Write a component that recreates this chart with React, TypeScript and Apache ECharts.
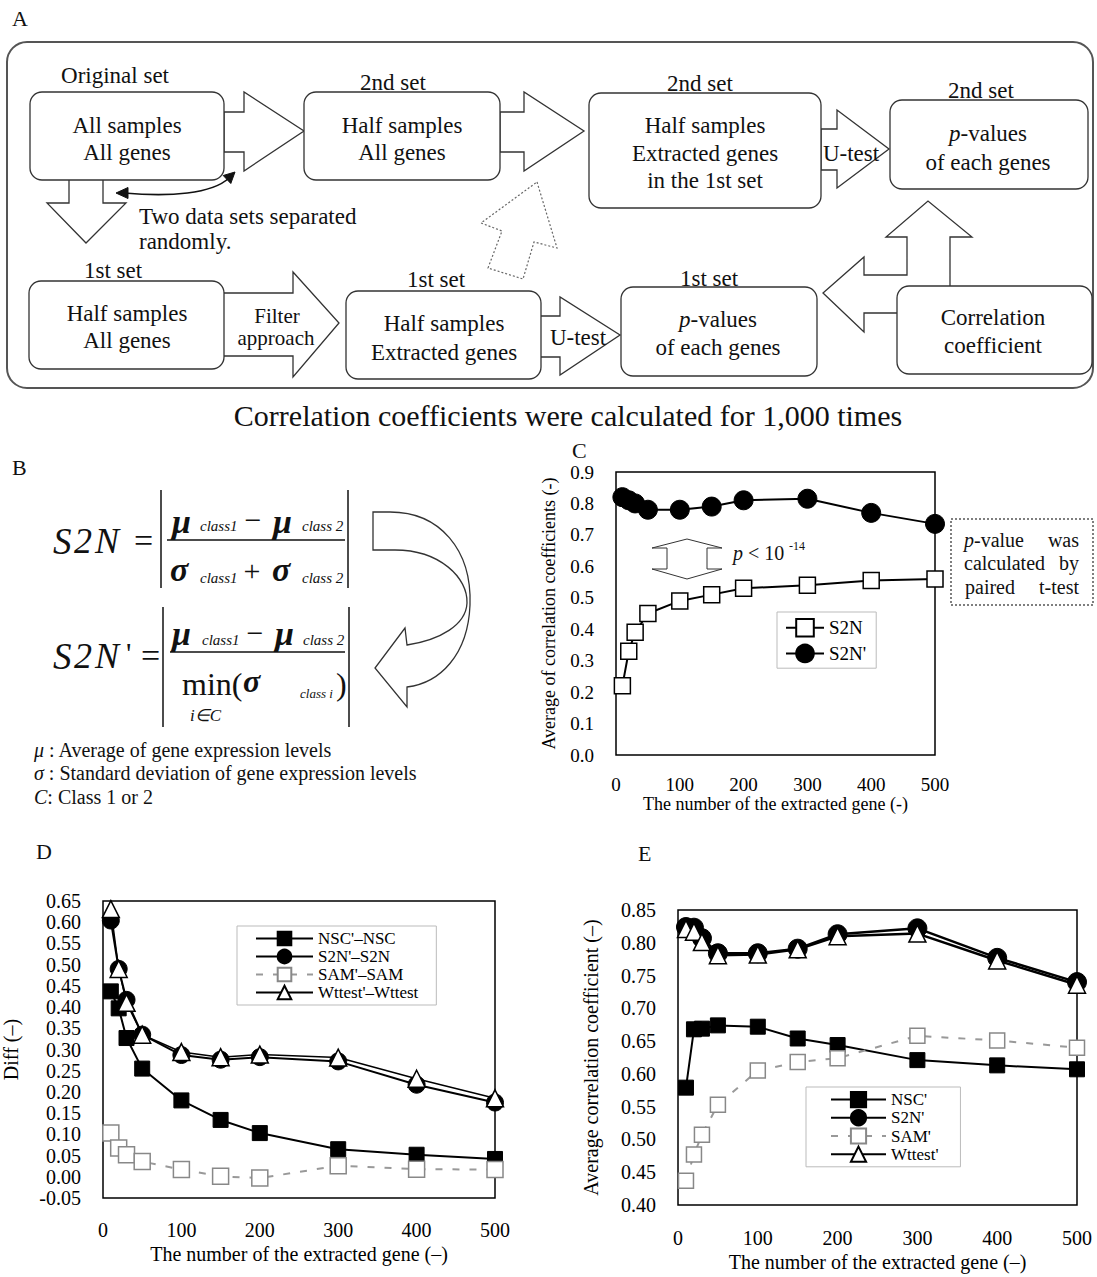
import React, { useEffect, useRef } from 'react';
import * as echarts from 'echarts';

const FONT = 'Liberation Serif';

// ---------- data ----------
const genes = [10, 20, 30, 50, 100, 150, 200, 300, 400, 500];

// Panel C
const cS2N = [0.22, 0.33, 0.39, 0.45, 0.49, 0.51, 0.53, 0.54, 0.555, 0.56];
const cS2NPrime = [0.82, 0.81, 0.80, 0.78, 0.78, 0.79, 0.81, 0.815, 0.77, 0.735];

// Panel D
const dNSC = [0.437, 0.397, 0.327, 0.255, 0.18, 0.134, 0.103, 0.065, 0.052, 0.042];
const dS2N = [0.604, 0.49, 0.417, 0.335, 0.287, 0.276, 0.282, 0.272, 0.217, 0.175];
const dSAM = [0.103, 0.068, 0.052, 0.036, 0.017, 0.001, -0.003, 0.026, 0.018, 0.017];
const dWttest = [0.631, 0.49, 0.41, 0.335, 0.294, 0.282, 0.288, 0.281, 0.231, 0.185];

// Panel E
const eNSC = [0.579, 0.668, 0.669, 0.674, 0.672, 0.654, 0.644, 0.621, 0.613, 0.607];
const eS2N = [0.824, 0.823, 0.807, 0.784, 0.784, 0.791, 0.813, 0.822, 0.777, 0.74];
const eSAM = [0.437, 0.477, 0.507, 0.553, 0.605, 0.618, 0.624, 0.658, 0.651, 0.64];
const eWttest = [0.821, 0.817, 0.801, 0.781, 0.782, 0.79, 0.81, 0.814, 0.773, 0.736];

const cLegend = ['S2N', "S2N'"];
const dLegend = ["NSC'–NSC", "S2N'–S2N", "SAM'–SAM", "Wttest'–Wttest"];
const eLegend = ["E:NSC'", "E:S2N'", "E:SAM'", "E:Wttest'"];

const pairs = (ys: number[]) => genes.map((g, i) => [g, ys[i]]);

// ---------- helpers ----------
const txt = (x: number, y: number, text: string, size = 23, align = 'center', extra: any = {}) => ({
  type: 'text',
  x,
  y,
  style: { text, fontSize: size, fontFamily: FONT, fill: '#111', align, verticalAlign: 'middle', ...extra },
});
const ital = (size: number, bold = false) => ({ fontStyle: 'italic', fontSize: size, fontFamily: FONT, fill: '#111', fontWeight: bold ? 'bold' : 'normal' });
const box = (x: number, y: number, w: number, h: number) => ({
  type: 'rect',
  shape: { x, y, width: w, height: h, r: 12 },
  style: { fill: '#fff', stroke: '#333', lineWidth: 1.3 },
});
const poly = (pts: number[][], extra: any = {}) => ({
  type: 'polygon',
  shape: { points: pts },
  style: { fill: '#fff', stroke: '#333', lineWidth: 1.3, ...extra },
});
const line = (x1: number, y1: number, x2: number, y2: number, w = 1.5, color = '#111') => ({
  type: 'line',
  shape: { x1, y1, x2, y2 },
  style: { stroke: color, lineWidth: w },
});

const curvedArrowPath =
  'M 373 512 L 390 512 C 440 512 472 550 470 605 C 468 655 440 683 407 687 L 407 707 L 375 668 L 405 628 L 407 645 C 440 640 466 625 467 603 C 468 578 440 550 395 550 L 373 550 Z';

function buildGraphic() {
  const el: any[] = [];
  // ----- Panel A -----
  el.push(txt(12, 18, 'A', 22, 'left'));
  el.push({ type: 'rect', shape: { x: 7, y: 42, width: 1086, height: 346, r: 20 }, style: { fill: 'none', stroke: '#555', lineWidth: 2 } });
  // arrows
  el.push(poly([[224, 112], [244, 112], [244, 92], [304, 131], [244, 171], [244, 152], [224, 152]]));
  el.push(poly([[500, 112], [524, 112], [524, 92], [584, 131], [524, 171], [524, 152], [500, 152]]));
  el.push(poly([[821, 129], [837, 129], [837, 110], [889, 149], [837, 188], [837, 170], [821, 170]]));
  el.push(poly([[69, 178], [103, 178], [103, 203], [126, 203], [86, 243], [47, 203], [69, 203]]));
  el.push(poly([[222, 293], [293, 293], [293, 272], [339, 323], [293, 377], [293, 356], [222, 356]]));
  el.push(poly([[539, 316], [560, 316], [560, 297], [620, 335], [560, 375], [560, 357], [539, 357]]));
  el.push(poly([[950, 292], [950, 237], [972, 237], [928, 201], [886, 237], [907, 237], [907, 275], [864, 275], [864, 257], [823, 293], [864, 332], [864, 313], [902, 313], [902, 292]]));
  el.push(poly([[537, 182], [557, 248], [534, 242], [523, 279], [488, 268], [502, 231], [481, 223]], { fill: 'none', stroke: '#666', lineDash: [2, 2], lineWidth: 1.2 }));
  // curved double arrow
  el.push({ type: 'bezierCurve', shape: { x1: 124, y1: 193, cpx1: 170, cpy1: 197, cpx2: 212, cpy2: 194, x2: 229, y2: 178 }, style: { stroke: '#111', lineWidth: 1.6, fill: 'none' } });
  el.push(poly([[116, 193], [128, 187.5], [128, 198.5]], { fill: '#111', stroke: '#111', lineWidth: 1 }));
  el.push(poly([[235, 172], [230.8, 183.5], [223.2, 175.5]], { fill: '#111', stroke: '#111', lineWidth: 1 }));
  // boxes
  el.push(box(30, 92, 194, 88));
  el.push(box(304, 92, 196, 88));
  el.push(box(589, 93, 232, 115));
  el.push(box(890, 100, 198, 89));
  el.push(box(29, 281, 195, 88));
  el.push(box(346, 291, 195, 88));
  el.push(box(621, 287, 196, 89));
  el.push(box(897, 286, 195, 88));
  const pv = { rich: { i: ital(23) } };
  // texts row 1
  el.push(txt(115, 75, 'Original set'));
  el.push(txt(127, 125, 'All samples'));
  el.push(txt(127, 152, 'All genes'));
  el.push(txt(393, 82, '2nd set'));
  el.push(txt(402, 125, 'Half samples'));
  el.push(txt(402, 152, 'All genes'));
  el.push(txt(700, 83, '2nd set'));
  el.push(txt(705, 125, 'Half samples'));
  el.push(txt(705, 153, 'Extracted genes'));
  el.push(txt(705, 180, 'in the 1st set'));
  el.push(txt(851, 153, 'U-test'));
  el.push(txt(981, 90, '2nd set'));
  el.push(txt(988, 133, '{i|p}-values', 23, 'center', pv));
  el.push(txt(988, 162, 'of each genes'));
  el.push(txt(139, 216, 'Two data sets separated', 23, 'left'));
  el.push(txt(139, 241, 'randomly.', 23, 'left'));
  // row 2
  el.push(txt(113, 270, '1st set'));
  el.push(txt(127, 313, 'Half samples'));
  el.push(txt(127, 340, 'All genes'));
  el.push(txt(277, 316, 'Filter', 21));
  el.push(txt(276, 338, 'approach', 21));
  el.push(txt(436, 279, '1st set'));
  el.push(txt(444, 323, 'Half samples'));
  el.push(txt(444, 352, 'Extracted genes'));
  el.push(txt(578, 337, 'U-test'));
  el.push(txt(709, 278, '1st set'));
  el.push(txt(718, 319, '{i|p}-values', 23, 'center', pv));
  el.push(txt(718, 347, 'of each genes'));
  el.push(txt(993, 317, 'Correlation'));
  el.push(txt(993, 345, 'coefficient'));
  el.push(txt(568, 415, 'Correlation coefficients were calculated for 1,000 times', 30));

  // ----- Panel B -----
  el.push(txt(12, 467, 'B', 22, 'left'));
  const it34 = { fontStyle: 'italic' };
  // S2N row
  el.push(txt(53, 541, 'S', 37, 'left', it34));
  el.push(txt(74, 541, '2', 36, 'left', it34));
  el.push(txt(95, 541, 'N', 36, 'left', it34));
  el.push(txt(134, 540, '=', 34, 'left'));
  el.push(line(161, 490, 161, 588));
  el.push(line(348, 490, 348, 588));
  el.push(line(167, 540, 345, 540, 1.6));
  const mu = { fontStyle: 'italic', fontWeight: 'bold' };
  el.push(txt(172, 521, 'μ', 34, 'left', mu));
  el.push(txt(200, 526, 'class1', 15, 'left', it34));
  el.push(txt(253, 519, '−', 30, 'center'));
  el.push(txt(273, 521, 'μ', 34, 'left', mu));
  el.push(txt(302, 526, 'class 2', 15, 'left', it34));
  el.push(txt(170, 569, 'σ', 34, 'left', mu));
  el.push(txt(200, 578, 'class1', 15, 'left', it34));
  el.push(txt(252, 570, '+', 30, 'center'));
  el.push(txt(272, 569, 'σ', 34, 'left', mu));
  el.push(txt(302, 578, 'class 2', 15, 'left', it34));
  // S2N' row
  el.push(txt(53, 656, 'S', 37, 'left', it34));
  el.push(txt(74, 656, '2', 36, 'left', it34));
  el.push(txt(95, 656, 'N', 36, 'left', it34));
  el.push(txt(126, 652, "'", 30, 'left'));
  el.push(txt(141, 655, '=', 34, 'left'));
  el.push(line(163, 607, 163, 727));
  el.push(line(349, 607, 349, 727));
  el.push(line(170, 652, 345, 652, 1.6));
  el.push(txt(172, 633, 'μ', 34, 'left', mu));
  el.push(txt(202, 640, 'class1', 15, 'left', it34));
  el.push(txt(255, 632, '−', 30, 'center'));
  el.push(txt(275, 633, 'μ', 34, 'left', mu));
  el.push(txt(303, 640, 'class 2', 15, 'left', it34));
  el.push(txt(182, 684, 'min(', 32, 'left'));
  el.push(txt(243, 681, 'σ', 32, 'left', mu));
  el.push(txt(300, 693, 'class i', 13, 'left', it34));
  el.push(txt(336, 684, ')', 32, 'left'));
  el.push(txt(190, 715, 'i∈C', 17, 'left', it34));
  // curved arrow
  el.push({ type: 'bCurvedArrow', x: 0, y: 0, style: { fill: '#fff', stroke: '#333', lineWidth: 1.3 } });
  // definitions
  const defRich = { rich: { i: ital(20) } };
  el.push(txt(34, 750, '{i|μ} : Average of gene expression levels', 20, 'left', defRich));
  el.push(txt(34, 773, '{i|σ} : Standard deviation of gene expression levels', 20, 'left', defRich));
  el.push(txt(34, 797, '{i|C}: Class 1 or 2', 20, 'left', defRich));

  // ----- Panel C annotations -----
  el.push(txt(572, 450, 'C', 22, 'left'));
  el.push(poly([[687, 539], [722, 548], [707, 548], [707, 569], [722, 569], [687, 579], [652, 569], [667, 569], [667, 548], [652, 548]], { lineWidth: 1 }));
  el.push(txt(733, 553, '{i|p} < 10', 20, 'left', { rich: { i: ital(20) } }));
  el.push(txt(789, 546, '-14', 12, 'left'));
  el.push({ type: 'rect', shape: { x: 951, y: 519, width: 142, height: 86 }, style: { fill: 'none', stroke: '#555', lineWidth: 1.5, lineDash: [2, 2] } });
  el.push(txt(964, 540, '{i|p}-value', 20, 'left', { rich: { i: ital(20) } }));
  el.push(txt(1079, 540, 'was', 20, 'right'));
  el.push(txt(964, 563, 'calculated', 20, 'left'));
  el.push(txt(1079, 563, 'by', 20, 'right'));
  el.push(txt(965, 587, 'paired', 20, 'left'));
  el.push(txt(1079, 587, 't-test', 20, 'right'));

  // ----- Panel labels D / E -----
  el.push(txt(36, 851, 'D', 22, 'left'));
  el.push(txt(638, 853, 'E', 22, 'left'));
  return el;
}

const axisText = (size: number) => ({ fontFamily: FONT, fontSize: size, color: '#000' });

const xAxis = (gridIndex: number, name: string, size: number, margin: number, nameGap: number, nameSize: number) => ({
  type: 'value',
  gridIndex,
  min: 0,
  max: 500,
  interval: 100,
  name,
  nameLocation: 'middle',
  nameGap,
  nameTextStyle: axisText(nameSize),
  axisLine: { show: false },
  axisTick: { show: false },
  splitLine: { show: false },
  axisLabel: { ...axisText(size), margin },
});

const yAxis = (gridIndex: number, name: string, min: number, max: number, interval: number, digits: number, size: number, nameGap: number, nameSize: number) => ({
  type: 'value',
  gridIndex,
  min,
  max,
  interval,
  name,
  nameLocation: 'middle',
  nameGap,
  nameTextStyle: axisText(nameSize),
  axisLine: { show: false },
  axisTick: { show: false },
  splitLine: { show: false },
  axisLabel: { ...axisText(size), margin: 22, formatter: (v: number) => v.toFixed(digits) },
});

const blackLine = (w: number) => ({ color: '#000', width: w });

function buildOption() {
  const series: any[] = [
    // C
    {
      type: 'line', name: 'S2N', xAxisIndex: 0, yAxisIndex: 0, data: pairs(cS2N),
      symbol: 'rect', symbolSize: 16, lineStyle: blackLine(2),
      itemStyle: { color: '#fff', borderColor: '#000', borderWidth: 1.5 }, z: 3,
    },
    {
      type: 'line', name: "S2N'", xAxisIndex: 0, yAxisIndex: 0, data: pairs(cS2NPrime),
      symbol: 'circle', symbolSize: 19, lineStyle: blackLine(2),
      itemStyle: { color: '#000', borderColor: '#000', borderWidth: 1 }, z: 3,
    },
    // D
    {
      type: 'line', name: dLegend[0], xAxisIndex: 1, yAxisIndex: 1, data: pairs(dNSC),
      symbol: 'rect', symbolSize: 15, lineStyle: blackLine(2),
      itemStyle: { color: '#000', borderColor: '#000', borderWidth: 1 }, z: 3,
    },
    {
      type: 'line', name: dLegend[1], xAxisIndex: 1, yAxisIndex: 1, data: pairs(dS2N),
      symbol: 'circle', symbolSize: 17, lineStyle: blackLine(2),
      itemStyle: { color: '#000', borderColor: '#000', borderWidth: 1 }, z: 3,
    },
    {
      type: 'line', name: dLegend[2], xAxisIndex: 1, yAxisIndex: 1, data: pairs(dSAM),
      symbol: 'rect', symbolSize: 16, lineStyle: { color: '#999', width: 2, type: [7, 10] },
      itemStyle: { color: '#fff', borderColor: '#888', borderWidth: 1.5 }, z: 3,
    },
    {
      type: 'line', name: dLegend[3], xAxisIndex: 1, yAxisIndex: 1, data: pairs(dWttest),
      symbol: 'triangle', symbolSize: 17, lineStyle: blackLine(1.5),
      itemStyle: { color: '#fff', borderColor: '#000', borderWidth: 1.5 }, z: 4,
    },
    // E
    {
      type: 'line', name: eLegend[0], xAxisIndex: 2, yAxisIndex: 2, data: pairs(eNSC),
      symbol: 'rect', symbolSize: 15, lineStyle: blackLine(2),
      itemStyle: { color: '#000', borderColor: '#000', borderWidth: 1 }, z: 3,
    },
    {
      type: 'line', name: eLegend[1], xAxisIndex: 2, yAxisIndex: 2, data: pairs(eS2N),
      symbol: 'circle', symbolSize: 19, lineStyle: blackLine(2.5),
      itemStyle: { color: '#000', borderColor: '#000', borderWidth: 1 }, z: 3,
    },
    {
      type: 'line', name: eLegend[2], xAxisIndex: 2, yAxisIndex: 2, data: pairs(eSAM),
      symbol: 'rect', symbolSize: 15, lineStyle: { color: '#999', width: 2, type: [7, 10] },
      itemStyle: { color: '#fff', borderColor: '#888', borderWidth: 1.5 }, z: 3,
    },
    {
      type: 'line', name: eLegend[3], xAxisIndex: 2, yAxisIndex: 2, data: pairs(eWttest),
      symbol: 'triangle', symbolSize: 17, lineStyle: blackLine(2.5),
      itemStyle: { color: '#fff', borderColor: '#000', borderWidth: 1.5 }, z: 4,
    },
  ];
  series.forEach((s) => { s.emphasis = { disabled: true }; s.clip = false; });

  const gridBase = { show: true, borderColor: '#000', borderWidth: 1.5, backgroundColor: 'transparent', containLabel: false };

  return {
    animation: false,
    backgroundColor: '#fff',
    textStyle: { fontFamily: FONT },
    grid: [
      { ...gridBase, left: 616, top: 472, width: 319, height: 283 },
      { ...gridBase, left: 95, top: 901, width: 400, height: 297 },
      { ...gridBase, left: 678, top: 910, width: 399, height: 295 },
    ],
    xAxis: [
      xAxis(0, 'The number of the extracted gene (-)', 19, 20, 40, 18),
      xAxis(1, 'The number of the extracted gene (–)', 20, 22, 46, 20),
      xAxis(2, 'The number of the extracted gene (–)', 20, 23, 47, 20),
    ],
    yAxis: [
      yAxis(0, 'Average of correlation coefficients (-)', 0, 0.9, 0.1, 1, 19, 58, 18),
      yAxis(1, 'Diff (–)', -0.05, 0.65, 0.05, 2, 20, 82, 20),
      yAxis(2, 'Average correlation coefficient (–)', 0.4, 0.85, 0.05, 2, 20, 77, 20),
    ],
    legend: [
      {
        orient: 'vertical', left: 777, top: 612, itemWidth: 38, itemHeight: 22, itemGap: 6,
        padding: [6, 10, 5, 8], borderColor: '#bbb', borderWidth: 1, backgroundColor: '#fff',
        textStyle: axisText(19), data: cLegend, selectedMode: false,
      },
      {
        orient: 'vertical', left: 237, top: 926, itemWidth: 57, itemHeight: 17, itemGap: 1,
        padding: [4, 18, 4, 18], borderColor: '#bbb', borderWidth: 1, backgroundColor: '#fff',
        textStyle: axisText(17), data: dLegend, selectedMode: false,
      },
      {
        orient: 'vertical', left: 806, top: 1087, itemWidth: 55, itemHeight: 19, itemGap: 1,
        padding: [4, 22, 4, 24], borderColor: '#bbb', borderWidth: 1, backgroundColor: '#fff',
        textStyle: axisText(17), data: eLegend, selectedMode: false,
        formatter: (n: string) => n.replace(/^E:/, ''),
      },
    ],
    series,
    graphic: { elements: buildGraphic() },
  };
}

export default function App() {
  const ref = useRef<HTMLDivElement>(null);
  useEffect(() => {
    document.body.style.margin = '0';
    document.body.style.overflow = 'hidden';
    echarts.graphic.registerShape('bCurvedArrow', echarts.graphic.extendPath(curvedArrowPath, {}) as any);
    const chart = echarts.init(ref.current as HTMLDivElement, undefined, { renderer: 'svg' });
    chart.setOption(buildOption() as any);
    return () => chart.dispose();
  }, []);
  return <div ref={ref} style={{ width: 1097, height: 1277, background: '#fff' }} />;
}
